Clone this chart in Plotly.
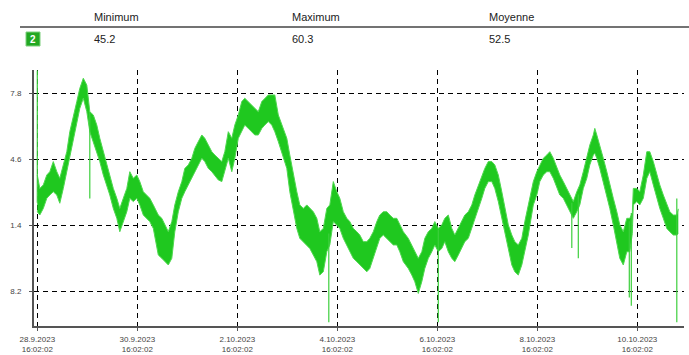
import pandas as pd
import plotly.graph_objects as go

# ---------------- data ----------------
start_time = "2023-09-28 16:02:02"

# time offsets in days since start, with upper / lower envelope of the noisy signal
t_days = [0.00, 0.05, 0.12, 0.19, 0.25, 0.32, 0.39, 0.45, 0.52, 0.59, 0.65, 0.72, 0.79, 0.85, 0.92, 0.99,
          1.05, 1.12, 1.19, 1.25, 1.32, 1.39, 1.45, 1.52, 1.59, 1.65, 1.72, 1.79, 1.85, 1.92, 1.99,
          2.05, 2.12, 2.19, 2.25, 2.32, 2.39, 2.42, 2.49, 2.55, 2.62, 2.69, 2.75, 2.82, 2.89, 2.95,
          3.02, 3.09, 3.15, 3.22, 3.29, 3.35, 3.42, 3.49, 3.55, 3.62, 3.69, 3.75, 3.82, 3.89, 3.95,
          4.02, 4.09, 4.15, 4.22, 4.29, 4.35, 4.42, 4.49, 4.55, 4.62, 4.69, 4.75, 4.82, 4.92, 4.99,
          5.05, 5.12, 5.19, 5.25, 5.32, 5.39, 5.45, 5.52, 5.59, 5.65, 5.72, 5.79, 5.85, 5.92, 5.99,
          6.05, 6.12, 6.19, 6.25, 6.32, 6.39, 6.45, 6.52, 6.59, 6.65, 6.72, 6.79, 6.85, 6.92, 6.99,
          7.05, 7.12, 7.19, 7.25, 7.32, 7.42, 7.49, 7.55, 7.62, 7.69, 7.75, 7.82, 7.89, 7.95,
          8.02, 8.09, 8.15, 8.22, 8.29, 8.35, 8.42, 8.49, 8.55, 8.62, 8.69, 8.75, 8.82, 8.89, 8.95,
          9.02, 9.09, 9.15, 9.22, 9.29, 9.35, 9.42, 9.49, 9.55, 9.62, 9.69, 9.75, 9.82, 9.92, 9.99,
          10.05, 10.12, 10.19, 10.25, 10.32, 10.39, 10.45, 10.52, 10.59, 10.65, 10.72, 10.79, 10.85, 10.92, 10.99,
          11.05, 11.12, 11.15, 11.19, 11.25, 11.32, 11.39, 11.45, 11.52, 11.59, 11.65, 11.72, 11.79, 11.85, 11.90,
          11.92, 11.99, 12.05, 12.12, 12.19, 12.25, 12.32, 12.39, 12.45, 12.52, 12.59, 12.65, 12.72, 12.79, 12.82]

upper = [53.84, 53.19, 53.36, 53.84, 54.00, 54.49, 54.00, 53.68, 54.33, 54.97, 55.94, 56.75, 57.40, 58.04, 58.53, 58.20,
         56.91, 56.75, 56.26, 55.62, 54.97, 54.33, 53.84, 53.19, 52.71, 52.22, 52.71, 53.19, 54.00, 53.68, 53.84,
         53.52, 53.03, 52.87, 52.71, 52.39, 52.06, 51.90, 51.74, 51.42, 51.09, 51.58, 52.39, 53.03, 53.52, 54.16,
         54.33, 54.65, 55.13, 55.46, 55.78, 55.62, 55.29, 54.97, 54.81, 54.65, 54.49, 54.97, 55.94, 55.62, 56.26,
         56.75, 57.40, 57.56, 57.40, 57.23, 57.07, 56.91, 57.40, 57.56, 57.72, 57.72, 57.72, 56.75, 56.10, 55.62,
         54.81, 53.84, 53.03, 52.39, 52.22, 52.39, 52.22, 52.06, 51.74, 51.09, 51.25, 52.22, 52.39, 53.52, 53.03,
         52.71, 52.06, 51.74, 51.58, 51.25, 51.09, 50.93, 50.61, 50.61, 50.77, 51.09, 51.58, 51.90, 52.06, 52.06,
         51.90, 51.74, 51.74, 51.42, 51.09, 50.77, 50.45, 50.12, 49.80, 50.12, 50.77, 51.09, 51.25, 51.58,
         51.25, 51.42, 51.74, 51.90, 51.25, 50.93, 51.25, 51.58, 51.90, 52.06, 52.39, 52.87, 53.36, 53.84, 54.16,
         54.49, 54.49, 54.33, 53.84, 53.03, 52.22, 51.42, 50.93, 50.61, 50.45, 50.77, 51.58, 52.39, 53.52, 54.00,
         54.33, 54.65, 54.81, 54.97, 54.65, 54.16, 53.84, 53.52, 53.19, 52.87, 52.55, 53.03, 53.36, 54.00, 54.65,
         55.29, 55.78, 56.10, 55.78, 55.29, 54.65, 54.00, 53.36, 52.71, 52.06, 51.42, 51.09, 51.74, 51.74, 52.00,
         53.19, 53.19, 53.03, 53.84, 54.97, 54.97, 54.49, 53.84, 53.36, 52.87, 52.39, 52.06, 51.90, 51.90, 52.20]

lower = [52.06, 51.90, 52.22, 52.71, 52.87, 53.03, 52.87, 52.47, 53.19, 54.00, 54.81, 55.46, 56.26, 57.07, 57.56, 56.91,
         55.94, 55.46, 54.97, 54.49, 53.84, 53.36, 52.87, 52.22, 51.74, 51.09, 51.58, 52.06, 52.71, 52.55, 52.71,
         52.39, 51.90, 51.74, 51.58, 51.25, 50.40, 49.96, 49.80, 49.64, 49.48, 49.80, 51.09, 52.06, 52.71, 53.03,
         53.36, 53.68, 54.00, 54.33, 54.65, 54.49, 54.16, 54.00, 53.84, 53.60, 53.52, 54.00, 54.65, 54.00, 54.65,
         55.62, 55.94, 56.26, 56.10, 55.94, 55.78, 55.78, 56.10, 56.26, 56.43, 56.26, 55.94, 55.46, 54.65, 54.16,
         53.03, 52.06, 51.25, 50.77, 50.61, 50.45, 50.28, 49.96, 49.64, 48.99, 49.15, 50.12, 50.45, 51.58, 51.42,
         51.25, 50.77, 50.45, 50.12, 49.80, 49.64, 49.48, 49.31, 49.15, 49.31, 49.80, 50.28, 50.77, 50.93, 50.77,
         50.61, 50.45, 50.45, 50.12, 49.64, 49.31, 48.99, 48.67, 48.10, 48.67, 49.31, 49.80, 50.12, 50.45,
         50.12, 50.28, 50.61, 50.12, 49.80, 49.64, 49.96, 50.28, 50.61, 50.77, 51.25, 51.74, 52.22, 52.71, 53.19,
         53.52, 53.52, 53.19, 52.55, 51.74, 50.93, 50.12, 49.48, 49.15, 48.99, 49.48, 50.12, 50.93, 52.39, 52.87,
         53.52, 53.84, 54.00, 54.00, 53.68, 53.19, 52.87, 52.71, 52.39, 52.06, 51.74, 52.06, 52.39, 53.19, 53.68,
         54.33, 54.81, 54.90, 54.65, 54.16, 53.52, 52.87, 52.22, 51.42, 50.61, 49.80, 49.48, 50.12, 50.12, 51.00,
         52.39, 52.55, 52.39, 52.71, 53.68, 54.00, 53.36, 52.71, 52.22, 51.74, 51.25, 51.09, 50.93, 50.93, 51.00]

# isolated spikes: time offset (days), top and bottom value
spike_days = [0.00, 1.05, 5.83, 8.02, 10.69, 10.82, 11.84, 11.88, 12.79]
spike_top = [58.9, 56.9, 51.0, 51.2, 52.5, 52.9, 51.6, 52.0, 52.7]
spike_bottom = [52.5, 52.7, 46.7, 46.7, 50.3, 49.8, 47.9, 47.5, 46.7]

tick_dates = ["2023-09-28 16:02:02", "2023-09-30 16:02:02", "2023-10-02 16:02:02", "2023-10-04 16:02:02",
              "2023-10-06 16:02:02", "2023-10-08 16:02:02", "2023-10-10 16:02:02"]
tick_labels = ["28.9.2023<br>16:02:02", "30.9.2023<br>16:02:02", "2.10.2023<br>16:02:02", "4.10.2023<br>16:02:02",
               "6.10.2023<br>16:02:02", "8.10.2023<br>16:02:02", "10.10.2023<br>16:02:02"]
y_ticks = [48.2, 51.4, 54.6, 57.8]
y_tick_labels = ["8.2", "1.4", "4.6", "7.8"]

stat_names = ["Minimum", "Maximum", "Moyenne"]
stat_values = ["45.2", "60.3", "52.5"]
channel_label = "2"

x_range = ["2023-09-28 14:27", "2023-10-11 14:27"]
y_range = [46.52, 58.93]

# ---------------- figure ----------------
t0 = pd.Timestamp(start_time)
x = t0 + pd.to_timedelta(t_days, unit="D")

GREEN = "#1fc81f"

fig = go.Figure()
fig.add_trace(go.Scatter(x=x, y=upper, mode="lines", line=dict(color="#4fd84f", width=1),
                         hoverinfo="skip", showlegend=False))
fig.add_trace(go.Scatter(x=x, y=lower, mode="lines", line=dict(color="#4fd84f", width=1),
                         fill="tonexty", fillcolor=GREEN, hoverinfo="skip", showlegend=False))

sx, sy = [], []
for d, a, b in zip(spike_days, spike_top, spike_bottom):
    ts = t0 + pd.Timedelta(days=d)
    sx += [ts, ts, None]
    sy += [a, b, None]
fig.add_trace(go.Scatter(x=sx, y=sy, mode="lines", line=dict(color="#3ccf3c", width=1.2),
                         hoverinfo="skip", showlegend=False))

W, H = 689, 355
L, R, T, B = 34, 5, 70, 29
pw, ph = W - L - R, H - T - B


def px(xp):
    return (xp - L) / pw


def py(yp):
    return (H - B - yp) / ph


FONT = "Liberation Sans, Arial, sans-serif"

annotations = []
stat_x = [92, 290, 487]
for name, val, xp in zip(stat_names, stat_values, stat_x):
    annotations.append(dict(x=px(xp), y=py(17), xref="paper", yref="paper", text=name, showarrow=False,
                            xanchor="left", yanchor="middle", font=dict(family=FONT, size=11, color="#222")))
    annotations.append(dict(x=px(xp), y=py(39), xref="paper", yref="paper", text=val, showarrow=False,
                            xanchor="left", yanchor="middle", font=dict(family=FONT, size=11, color="#222")))
annotations.append(dict(x=px(33), y=py(39), xref="paper", yref="paper", text="<b>" + channel_label + "</b>",
                        showarrow=False, xanchor="center", yanchor="middle",
                        font=dict(family=FONT, size=10, color="white")))

shapes = [
    dict(type="line", xref="paper", yref="paper", x0=px(20), x1=px(689), y0=py(27), y1=py(27),
         line=dict(color="#444", width=1.5)),
    dict(type="rect", xref="paper", yref="paper", x0=px(26), x1=px(40), y0=py(46), y1=py(32),
         fillcolor="#22a822", line=dict(color="#7fd07f", width=1)),
]

fig.update_layout(
    width=W, height=H,
    margin=dict(l=L, r=R, t=T, b=B, autoexpand=False),
    paper_bgcolor="white", plot_bgcolor="white",
    annotations=annotations, shapes=shapes,
    font=dict(family=FONT),
)
fig.update_xaxes(
    range=x_range, tickvals=pd.to_datetime(tick_dates), ticktext=tick_labels,
    showgrid=True, gridcolor="black", gridwidth=1, griddash="5px,4px",
    showline=True, linecolor="#555", linewidth=2, zeroline=False, automargin=False,
    ticks="outside", ticklen=3, tickcolor="#555", ticklabelstandoff=1,
    tickfont=dict(family=FONT, size=8, color="#444"),
)
fig.update_yaxes(
    range=y_range, tickvals=y_ticks, ticktext=y_tick_labels,
    showgrid=True, gridcolor="black", gridwidth=1, griddash="5px,4px",
    showline=True, linecolor="#555", linewidth=2, zeroline=False, automargin=False,
    ticks="outside", ticklen=3, tickcolor="#555", ticklabelstandoff=6,
    tickfont=dict(family=FONT, size=8, color="#444"),
)

fig.write_html("out.html")
